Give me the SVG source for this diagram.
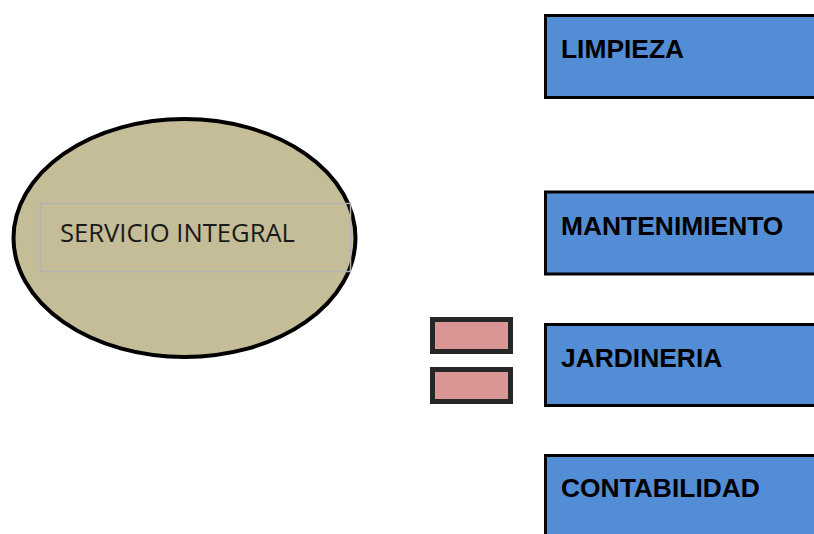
<svg xmlns="http://www.w3.org/2000/svg" width="814" height="534" viewBox="0 0 814 534">
<style>
.box{fill:#538dd5;stroke:#000;stroke-width:3}
.lbl{font-family:"Liberation Sans",Arial,sans-serif;font-weight:bold;font-size:26.4px;fill:#000}
.pink{fill:#d99694;stroke:#262626;stroke-width:5}
</style>
<rect width="814" height="534" fill="#fff"/>
<g id="servicio-integral">
<ellipse cx="184.5" cy="238" rx="171" ry="119" fill="#c4bd97" stroke="#000" stroke-width="4"/>
<rect x="40.5" y="203.5" width="310" height="68" fill="none" stroke="#b3b3b3" stroke-width="1.5"/>
<text x="60" y="242" font-family="'Open Sans','Noto Sans',sans-serif" font-size="25" fill="#1a1a1a" textLength="235" lengthAdjust="spacingAndGlyphs">SERVICIO INTEGRAL</text>
</g>
<g id="pink-1"><rect class="pink" x="432.5" y="319.5" width="78" height="32"/></g>
<g id="pink-2"><rect class="pink" x="432.5" y="369.5" width="78" height="32"/></g>
<g id="limpieza"><rect class="box" x="545.5" y="15.5" width="280" height="82"/><text class="lbl" x="561" y="58">LIMPIEZA</text></g>
<g id="mantenimiento"><rect class="box" x="545.5" y="192" width="280" height="82"/><text class="lbl" x="561" y="235">MANTENIMIENTO</text></g>
<g id="jardineria"><rect class="box" x="545.5" y="324.5" width="280" height="81"/><text class="lbl" x="561" y="367">JARDINERIA</text></g>
<g id="contabilidad"><rect class="box" x="545.5" y="455.5" width="280" height="100"/><text class="lbl" x="561" y="497">CONTABILIDAD</text></g>
<g id="connectors"/>
</svg>
